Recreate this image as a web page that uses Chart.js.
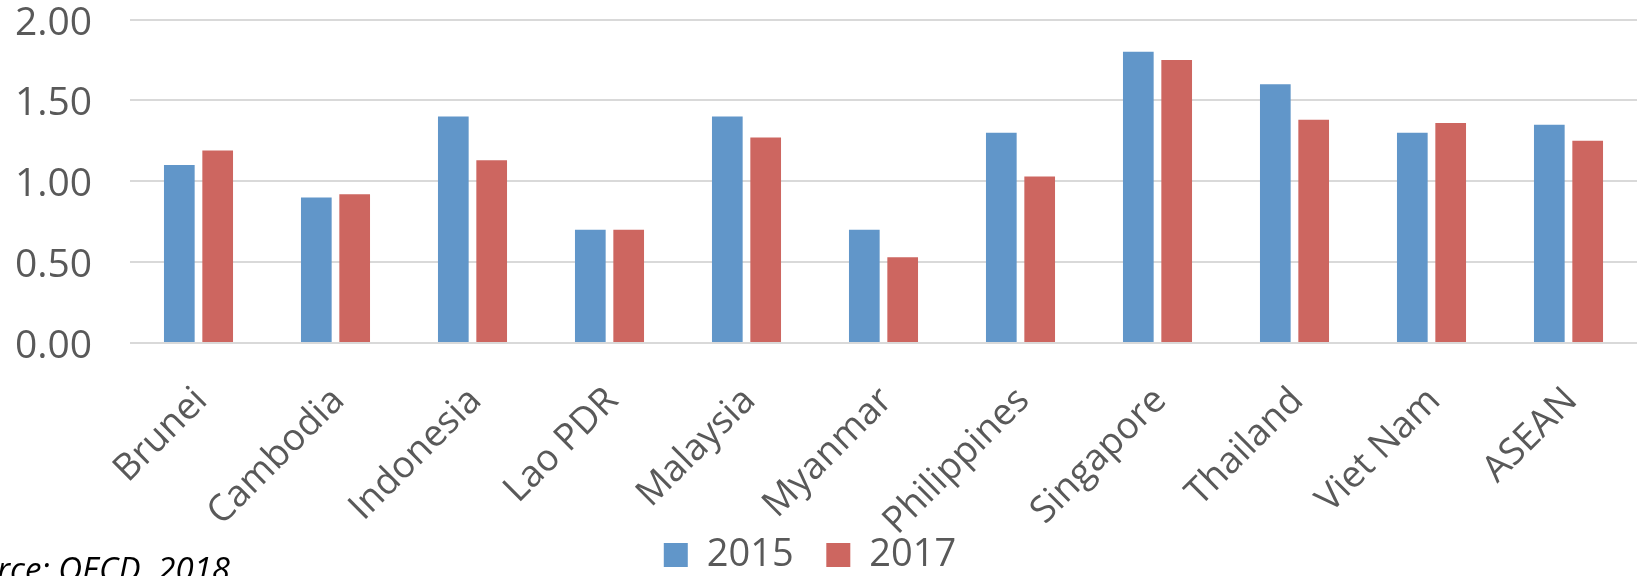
<!DOCTYPE html>
<html>
<head>
<meta charset="utf-8">
<script src="https://cdn.jsdelivr.net/npm/chart.js@4/dist/chart.umd.min.js"></script>
<style>
  body { margin: 0; background: #fff; }
  #wrap { width: 1637px; height: 576px; }
</style>
</head>
<body>
<div id="wrap"><canvas id="chart" width="1637" height="576"></canvas></div>
<script>
// Datos
const countries = ['Brunei', 'Cambodia', 'Indonesia', 'Lao PDR', 'Malaysia', 'Myanmar',
    'Philippines', 'Singapore', 'Thailand', 'Viet Nam', 'ASEAN'];
const values2015 = [1.10, 0.90, 1.40, 0.70, 1.40, 0.70, 1.30, 1.80, 1.60, 1.30, 1.35];
const values2017 = [1.19, 0.92, 1.13, 0.70, 1.27, 0.53, 1.03, 1.75, 1.38, 1.36, 1.25];
const yTicks = [0, 0.5, 1, 1.5, 2];
const sourceNote = 'Source: OECD, 2018';

const grey = '#595959';

// Nota de la fuente abajo a la izquierda (cortada en el original)
const sourcePlugin = {
    id: 'sourceNote',
    afterLayout(chart) {
        // la leyenda del original está un poco a la izquierda del centro
        chart.legend.left -= 16;
        chart.legend.right -= 16;
    },
    afterDraw(chart) {
        const ctx = chart.ctx;
        ctx.save();
        ctx.font = 'italic 33px "Open Sans"';
        ctx.fillStyle = '#000';
        ctx.textAlign = 'right';
        ctx.textBaseline = 'alphabetic';
        ctx.fillText(sourceNote, 230, 581);
        ctx.restore();
    }
};

const ctx = document.getElementById('chart').getContext('2d');
const chart = new Chart(ctx, {
    type: 'bar',
    data: {
        labels: countries,
        datasets: [
            {
                label: '2015',
                data: values2015,
                backgroundColor: '#6196C9',
                borderWidth: 0
            },
            {
                label: '2017',
                data: values2017,
                backgroundColor: '#CD6660',
                borderWidth: 0
            }
        ]
    },
    options: {
        responsive: false,
        animation: false,
        layout: { padding: { left: 15, right: 0, top: 0, bottom: -8 } },
        datasets: {
            bar: { categoryPercentage: 0.56, barPercentage: 0.8 }
        },
        scales: {
            x: {
                grid: { display: false },
                border: { display: false },
                ticks: {
                    color: grey,
                    font: { family: '"Open Sans"', size: 37 },
                    minRotation: 45,
                    maxRotation: 45,
                    padding: 28,
                    labelOffset: 3
                },
                // alto fijo para que las etiquetas giradas no se recorten
                afterFit(scale) { scale.height = 190; }
            },
            y: {
                min: 0,
                max: 2,
                afterBuildTicks(scale) {
                    scale.ticks = yTicks.map(v => ({ value: v }));
                },
                afterFit(scale) { scale.width = 115; },
                grid: { color: '#D9D9D9', lineWidth: 2, drawTicks: false },
                border: { display: false },
                ticks: {
                    color: grey,
                    font: { family: '"Open Sans"', size: 39, lineHeight: 1.0 },
                    padding: 0,
                    crossAlign: 'far',
                    labelOffset: 4,
                    callback: v => Number(v).toFixed(2)
                }
            }
        },
        plugins: {
            legend: {
                display: true,
                position: 'bottom',
                labels: {
                    color: grey,
                    font: { family: '"Open Sans"', size: 38 },
                    boxWidth: 24,
                    boxHeight: 24,
                    padding: 3,
                    // espacio extra entre las dos entradas de la leyenda
                    generateLabels(chart) {
                        const items = Chart.defaults.plugins.legend.labels.generateLabels(chart);
                        items.forEach((it, i) => {
                            if (i < items.length - 1) it.text += '   ';
                        });
                        return items;
                    }
                }
            },
            tooltip: { enabled: false }
        }
    },
    plugins: [sourcePlugin]
});
</script>
</body>
</html>
